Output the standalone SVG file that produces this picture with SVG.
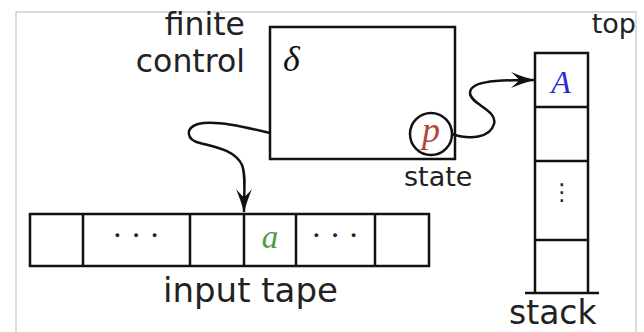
<svg xmlns="http://www.w3.org/2000/svg" width="644" height="332" viewBox="0 0 644 332">
<style>
.ln{fill:none;stroke:#111;stroke-width:2.5}
.lbl{font-family:"DejaVu Sans",sans-serif;fill:#222}
.math{font-family:"Liberation Serif",serif;font-style:italic}
.dots{font-family:"Liberation Serif",serif;fill:#222;font-size:32px;text-anchor:middle}
</style>
<defs>
<marker id="ah" markerUnits="userSpaceOnUse" viewBox="-25 -10 27 20" refX="0" refY="0" markerWidth="27" markerHeight="20" orient="auto">
<path d="M1,0 Q-10,-2.5 -23,-8 Q-15,-1 -15,0 Q-15,1 -23,8 Q-10,2.5 1,0 Z" fill="#111"/>
</marker>
</defs>
<rect x="0" y="0" width="644" height="332" fill="#fff"/>
<rect x="16" y="12" width="620" height="340" fill="none" stroke="#d0d0d0" stroke-width="1.5"/>
<g id="finite-control">
<rect class="ln" x="270" y="27" width="185" height="132"/>
<text class="lbl" x="245" y="35" font-size="31.5" text-anchor="end">finite</text>
<text class="lbl" x="245" y="72" font-size="31.5" text-anchor="end">control</text>
<text class="math" x="283" y="71" font-size="36" fill="#111">δ</text>
</g>
<g id="state">
<circle class="ln" cx="431" cy="134" r="21"/>
<text class="math" x="431" y="142" font-size="36" fill="#b5443c" text-anchor="middle">p</text>
<text class="lbl" x="404" y="186" font-size="27">state</text>
</g>
<g id="input-tape">
<rect class="ln" x="30" y="214" width="399" height="52"/>
<path class="ln" d="M83,214V266M190,214V266M244,214V266M296,214V266M375,214V266"/>
<text class="dots" x="136" y="246">· · ·</text>
<text class="dots" x="335" y="246">· · ·</text>
<text class="math" x="270" y="248" font-size="33" fill="#4c9a4c" text-anchor="middle">a</text>
<text class="lbl" x="163" y="302" font-size="34">input tape</text>
</g>
<g id="stack">
<path class="ln" d="M535,293V53H588V293M535,107H588M535,161H588M535,240H588M525,293H599"/>
<text class="math" x="561" y="93" font-size="32" fill="#2a2ad0" text-anchor="middle">A</text>
<text x="562" y="200" font-family="DejaVu Sans,sans-serif" font-size="23" fill="#222" text-anchor="middle">⋮</text>
<text class="lbl" x="509" y="324" font-size="33">stack</text>
<text class="lbl" x="636" y="33" font-size="27" text-anchor="end">top</text>
</g>
<g id="connectors">
<path class="ln" d="M270,133 C245,127 215,120 198,124 C185,128 186,140 200,143 C215,147 235,150 242,165 C246,175 244,190 244,212" marker-end="url(#ah)"/>
<path class="ln" d="M452,134 C470,140 490,138 494,124 C498,110 470,104 470,93 C470,82 490,80 534,80" marker-end="url(#ah)"/>
</g>
</svg>
